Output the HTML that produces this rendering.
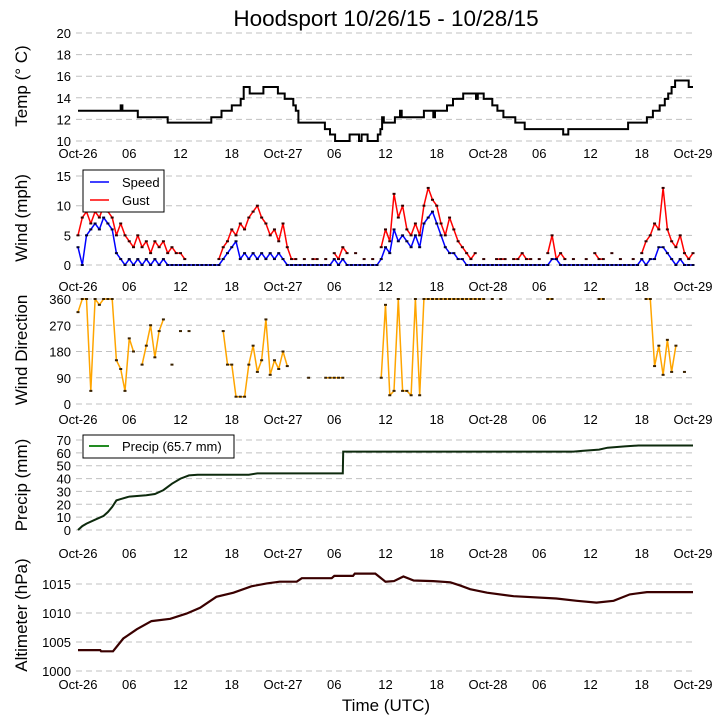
<!DOCTYPE html>
<html><head><meta charset="utf-8"><style>
html,body{margin:0;padding:0;background:#fff;}
svg{display:block;font-family:"Liberation Sans","DejaVu Sans",sans-serif;}
</style></head><body>
<svg id="chart" width="724" height="725" viewBox="0 0 724 725" xmlns="http://www.w3.org/2000/svg">
<text x="386" y="26" font-size="22.5" text-anchor="middle">Hoodsport 10/26/15 - 10/28/15</text>
<text x="386" y="711" font-size="17" text-anchor="middle">Time (UTC)</text>
</svg>
<script>
// ---- data ----
const xTickHours = [0,6,12,18,24,30,36,42,48,54,60,66,72];
const xTickLabels = ["Oct-26","06","12","18","Oct-27","06","12","18","Oct-28","06","12","18","Oct-29"];
const tempTicks = [10,12,14,16,18,20];
const windTicks = [0,5,10,15];
const dirTicks = [0,90,180,270,360];
const precipTicks = [0,10,20,30,40,50,60,70];
const altTicks = [1000,1005,1010,1015];

// temperature: step series (start hour, value)
const tempHours = [0,5.0,5.2,7.0,10.5,15.6,16.8,18.0,19.05,19.4,20.1,21.7,23.4,24.2,25.2,25.5,25.8,28.9,29.5,30.1,31.8,32.9,33.2,33.9,35.1,35.4,35.6,35.8,37.1,37.7,37.9,40.5,41.6,41.8,43.2,43.9,45.1,46.6,46.8,47.5,48.5,49.1,49.8,51.2,52.3,56.8,57.4,64.4,66.6,67.3,68.1,68.7,69.1,69.5,69.9,71.5];
const tempVals  = [12.8,13.3,12.8,12.2,11.7,12.2,12.8,13.3,13.9,15.0,14.4,15.0,14.4,13.9,13.3,12.8,11.7,11.1,10.6,10.0,10.6,10.0,10.6,10.0,10.6,11.1,12.2,11.7,12.2,12.8,12.2,12.8,12.2,12.8,13.3,13.9,14.4,13.9,14.4,13.9,13.3,12.8,12.2,11.7,11.1,10.6,11.1,11.7,12.2,12.8,13.3,13.9,14.4,15.0,15.6,15.0];
const tempEnd = 72;

// wind: half-hourly samples from 0h to 72h
const windSpeed = [3,0,5,6,7,6,8,7,6,2,1,0,
 1,0,1,0,1,0,1,0,1,0,0,0,
 0,0,0,0,0,0,0,0,0,
 0,1,2, 3,4, 1,2,1,2,1,2,1,2, 1,2, 1,0,
 0,0,0,0,0,0,0,0,0,0, 1,0,1,0, 0,0,0,0,0,0,0,
 1,3,2, 6,4, 5,4,3,5, 3, 7,8,9,7, 5,3,2, 2,1, 1,0,0,0,
 0,0,0,0,0,0,0,0,0,0,0,0,0,0,0,0, 0,1,1,0,
 0,0,0,0,0,0,0,0,0,0,0,0,0,0,0,0,0,0, 1,0, 1,1,3,3, 2,1,0,1, 0,0,0];
const windGust = [5,8,9,7,9,8,10,9,8,5,7,5,
 4,3,5,3,4,2,4,3,4,2,3,2,
 2,1,null,null,null,null,null,null,null,
 1,3,4, 6,5, 7,6,8,9,10,8,7,5, 6,4, 7,3,
 1,1,null,1,null,1,1,null,1,null, 2,1,3,2, null,2,null,1,null,1,null,
 3,6,4, 12,8, 10,6,5,7, 5, 10,13,11,10, 7,5,8, 6,4, 3,2,1,2,
 null,1,null,null,1,1,1,null,1,1,2,1,1,null,1,null, 2,5,1,2,
 1,null,1,null,null,1,null,2,1,1,null,2,null,1,null,null,1,null, 2,4, 5,7,6,13, 6,4,3,5, 2,1,2];

// wind direction: half-hourly samples (degrees), null = missing
const windDir = [315,360,360,45,360,340,360,360,360,150,120,45,
 225,180,null,135,200,270,160,250,290,null,135,null,
 250,null,250,null,null,null,null,null,null,null,
 250,135,135,25,25,25,135,200,110,150,290,100,150,120,180,130,
 null,null,null,null,90,null,null,null,90,90,90,90,90,null,
 null,null,null,null,null,null,null,90,340,30,45,360,45,45,30,360,30,
 360,360,360,360,360,360,360,360,360,360,360,360,360,360,360,
 null,360,null,360,null,null,null,null,null,null,null,null,null,null,
 360,360,null,null,null,null,null,null,null,null,null,null,360,360,
 null,null,null,null,null,null,null,null,null,360,360,130,200,100,220,110,200,null,110,null,null];

// precipitation cumulative (hour, mm)
const precipHours = [0,0.5,1,2,3,3.5,4,4.5,5,6,8,9,10,11,12,13,14,20,21,31.0,31.05,58,59,61,62,64,65.6,72];
const precipVals  = [0,3,5,8,11,14,18,23,24,26,27,28,31,36,40,42.5,43,43,44,44,61,61,61.5,62.5,64,65,65.7,65.7];

// altimeter (hour, hPa)
const altHours = [0,2.6,2.7,4.1,5.3,6.9,8.6,10.8,12.7,14.3,16.2,18.2,20.3,22.1,23.6,25.6,26.2,29.7,30.0,32.2,32.4,34.8,36.0,37.0,38.1,39.3,41.6,43.6,44.8,45.9,47.9,51.0,56.0,58.4,60.7,62.7,64.6,66.6,72];
const altVals  = [1003.6,1003.6,1003.4,1003.4,1005.6,1007.2,1008.6,1009.0,1009.9,1010.9,1012.8,1013.5,1014.6,1015.1,1015.4,1015.4,1016.0,1016.0,1016.4,1016.4,1016.8,1016.8,1015.4,1015.5,1016.3,1015.6,1015.5,1015.3,1014.7,1014.1,1013.5,1012.9,1012.5,1012.1,1011.8,1012.1,1013.2,1013.6,1013.6];

// ---- scales ----
const X = h => 78 + h * 615 / 72;
const yTemp = v => 141 - (v - 10) * 10.8;
const yWind = v => 265 - v * 5.93;
const yDir = v => 404 - v * 105 / 360;
const yPrec = v => 530 - v * 90 / 70;
const yAlt = v => 671 - (v - 1000) * 87 / 15;

const svg = document.getElementById('chart');
const NS = 'http://www.w3.org/2000/svg';
function mk(tag, attrs, parent) {
  const e = document.createElementNS(NS, tag);
  for (const k in attrs) e.setAttribute(k, attrs[k]);
  (parent || svg).appendChild(e);
  return e;
}

function axes(name, ticks, yf, label, labelY, xLabelBase) {
  const g = mk('g', {});
  
  
  ticks.forEach(t => {
    const y = yf(t);
    const ln = mk('line', {x1: 76, x2: 694, y1: y, y2: y, stroke: '#c0c0c0', 'stroke-width': 1, 'stroke-dasharray': '6,4'}, g);
    
    
    const tx = mk('text', {x: 71, y: y + 5, 'font-size': 13, 'text-anchor': 'end'}, g);
    tx.textContent = t;
    
    
  });
  xTickHours.forEach((h, i) => {
    const tx = mk('text', {x: X(h), y: xLabelBase, 'font-size': 13, 'text-anchor': 'middle'}, g);
    tx.textContent = xTickLabels[i];
    
    
  });
  const yl = mk('text', {x: 0, y: 0, 'font-size': 17, 'text-anchor': 'middle', transform: 'translate(27,' + labelY + ') rotate(-90)'}, g);
  yl.textContent = label;
  
  
}

axes('temp', tempTicks, yTemp, 'Temp (\u00B0 C)', 86, 158);
axes('wind', windTicks, yWind, 'Wind (mph)', 218, 291);
axes('direction', dirTicks, yDir, 'Wind Direction', 350, 424);
axes('precip', precipTicks, yPrec, 'Precip (mm)', 485, 558);
axes('altimeter', altTicks, yAlt, 'Altimeter (hPa)', 615, 689);

// temperature step line
let d = '';
tempHours.forEach((h, i) => {
  d += (i === 0 ? 'M' : 'H') + X(h).toFixed(1) + (i === 0 ? ' ' + yTemp(tempVals[i]).toFixed(1) : ' V' + yTemp(tempVals[i]).toFixed(1));
});
d += ' H' + X(tempEnd).toFixed(1);
const tl = mk('path', {d: d, fill: 'none', stroke: '#000', 'stroke-width': 2});



// series with gaps
function series(vals, yf, color, width, name, markerColor) {
  const g = mk('g', {});
  
  
  let p = '', prev = false;
  vals.forEach((v, i) => {
    if (v === null) { prev = false; return; }
    p += (prev ? 'L' : 'M') + X(i * 0.5).toFixed(1) + ' ' + yf(v).toFixed(1) + ' ';
    prev = true;
  });
  const pl = mk('path', {d: p, fill: 'none', stroke: color, 'stroke-width': width, 'stroke-linejoin': 'round'}, g);
  
  
  vals.forEach((v, i) => {
    if (v === null) return;
    const m = mk('rect', {x: X(i * 0.5) - 1.5, y: yf(v) - 1, width: 3, height: 2, fill: markerColor}, g);
    
    
  });
}
series(windGust, yWind, '#ff0000', 1.5, 'gust-series', '#300');
series(windSpeed, yWind, '#0000ff', 1.5, 'speed-series', '#003');
series(windDir, yDir, '#ffa500', 1.5, 'direction-series', '#3a2200');

// precip
let pp = '';
precipHours.forEach((h, i) => { pp += (i ? 'L' : 'M') + X(h).toFixed(1) + ' ' + yPrec(precipVals[i]).toFixed(1) + ' '; });
const pl = mk('path', {d: pp, fill: 'none', stroke: '#0d2a0d', 'stroke-width': 2});



// altimeter
let ap = '';
altHours.forEach((h, i) => { ap += (i ? 'L' : 'M') + X(h).toFixed(1) + ' ' + yAlt(altVals[i]).toFixed(1) + ' '; });
const al = mk('path', {d: ap, fill: 'none', stroke: '#3a0000', 'stroke-width': 2.2});



// legends
const lg = mk('g', {});


mk('rect', {x: 83, y: 170, width: 81, height: 42, fill: '#fff', stroke: '#000', 'stroke-width': 1}, lg);
mk('line', {x1: 90, x2: 109, y1: 182, y2: 182, stroke: '#0000ff', 'stroke-width': 1.5}, lg);
mk('line', {x1: 90, x2: 109, y1: 200, y2: 200, stroke: '#ff0000', 'stroke-width': 1.5}, lg);
const ls = mk('text', {x: 122, y: 187, 'font-size': 13}, lg);
ls.textContent = 'Speed';


const lgu = mk('text', {x: 122, y: 205, 'font-size': 13}, lg);
lgu.textContent = 'Gust';



const pg = mk('g', {});


mk('rect', {x: 83, y: 435, width: 151, height: 23, fill: '#fff', stroke: '#000', 'stroke-width': 1}, pg);
mk('line', {x1: 89, x2: 109, y1: 446, y2: 446, stroke: '#228b22', 'stroke-width': 2}, pg);
const lp = mk('text', {x: 122, y: 451, 'font-size': 13}, pg);
lp.textContent = 'Precip (65.7 mm)';


</script>
</body></html>
